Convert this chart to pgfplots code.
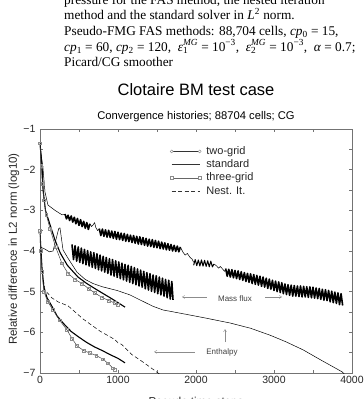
\documentclass[border=0pt]{standalone}
\usepackage{fontspec}
\setmainfont{Liberation Sans}
\newfontfamily\capfont{Liberation Serif}
\usepackage{pgfplots}
\pgfplotsset{compat=1.18}
\usetikzlibrary{arrows.meta}

% epsilon with stacked sub- and superscript
\newcommand\supsub[2]{\makebox[0pt][l]{\textsubscript{#1}}\textsuperscript{#2}}

\begin{document}
\begin{tikzpicture}[x=1pt,y=1pt]
\useasboundingbox (-40,-26) rectangle (324,373);
\clip (-40,-26) rectangle (324,373);

% caption lines above the chart
\begin{scope}[every node/.style={anchor=base west, inner sep=0pt, font=\capfont\fontsize{13.3}{15.6}\selectfont}]
\node at (24,368.6) {pressure for the FAS method, the nested iteration};
\node at (24,353.0) {method and the standard solver in \textit{L}\textsuperscript{2} norm.};
\node at (24,337.4) {Pseudo-FMG FAS methods: 88,704 cells, \textit{cp}\textsubscript{0} = 15,};
\node at (24,321.8) {\textit{cp}\textsubscript{1} = 60, \textit{cp}\textsubscript{2} = 120,\ \ \textit{ε}\supsub{1}{\textit{MG}} = 10\textsuperscript{−3},\ \ \textit{ε}\supsub{2}{\textit{MG}} = 10\textsuperscript{−3},\ \ \textit{α} = 0.7;};
\node at (24,306.2) {Picard/CG smoother};
\end{scope}

% titles and axis labels
\node[anchor=base, inner sep=0pt, font=\fontsize{16.5}{18}\selectfont] at (156,277) {Clotaire BM test case};
\node[anchor=base, inner sep=0pt, font=\fontsize{11.2}{13}\selectfont] at (156,253) {Convergence histories; 88704 cells; CG};
\node[rotate=90, inner sep=0pt, font=\fontsize{11.5}{13}\selectfont, text=black!85] at (-26,124) {Relative difference in L2 norm (log10)};
\node[anchor=base, inner sep=0pt, font=\fontsize{11.5}{13}\selectfont, text=black!85] at (156,-32) {Pseudo time steps};

\begin{axis}[
  scale only axis, width=312pt, height=244pt,
  xmin=0, xmax=4000, ymin=-7, ymax=-1,
  xtick={0,1000,2000,3000,4000}, xticklabels={0,1000,2000,3000,4000},
  minor xtick={500,1500,2500,3500},
  ytick={-7,-6,-5,-4,-3,-2,-1}, yticklabels={−7,−6,−5,−4,−3,−2,−1},
  minor ytick={-6.5,-5.5,-4.5,-3.5,-2.5,-1.5},
  tick align=inside, major tick length=3pt, minor tick length=3pt,
  axis line style={black!55, line width=0.5pt},
  tick style={black!55, line width=0.4pt},
  ticklabel style={font=\fontsize{10.5}{12}\selectfont, text=black!85},
  yticklabel style={xshift=-1pt},
  legend style={draw=none, fill=none, inner sep=0pt,
    at={(rel axis cs:0.416,0.930)}, anchor=north west,
    font=\fontsize{11}{13}\selectfont, text=black!85,
    nodes={inner sep=0pt, text height=8pt, text depth=2.3pt}, row sep=3pt, column sep=5pt},
  legend cell align=left,
  band/.style={black, line width=1.6pt, line join=round, forget plot},
  thin/.style={black, line width=0.5pt, line join=round, forget plot},
]

% ---------------- standard solver: mass flux ----------------
\addplot[thin] coordinates {
(0,-1.40) (20,-1.70) (38,-1.96) (64,-2.55) (102,-2.87) (192,-3.00) (282,-3.11) (320,-3.10)
};
\addplot[band] coordinates {
(320,-3.09) (340,-3.21) (360,-3.12) (380,-3.25) (400,-3.14) (420,-3.29) (440,-3.17)
(460,-3.33) (480,-3.20) (500,-3.37) (520,-3.23) (540,-3.40) (560,-3.27) (580,-3.44)
(600,-3.30) (620,-3.47) (640,-3.33)
};
\addplot[thin] coordinates {
(640,-3.33) (660,-3.40) (680,-3.36) (700,-3.30) (715,-3.42) (740,-3.50) (760,-3.45)
};
\addplot[band] coordinates {
(760,-3.45) (780,-3.62) (800,-3.46) (820,-3.64) (840,-3.48) (860,-3.66) (880,-3.49)
(900,-3.67) (920,-3.51) (940,-3.69) (960,-3.52) (980,-3.71) (1000,-3.54) (1020,-3.72)
(1040,-3.56) (1060,-3.74) (1080,-3.57) (1100,-3.76) (1120,-3.59) (1140,-3.77) (1160,-3.61)
(1180,-3.79) (1200,-3.62) (1220,-3.81) (1240,-3.64) (1260,-3.83) (1280,-3.65) (1300,-3.84)
(1320,-3.67) (1340,-3.86) (1360,-3.69) (1380,-3.88) (1400,-3.71) (1420,-3.89) (1440,-3.72)
(1460,-3.91) (1480,-3.74) (1500,-3.92) (1520,-3.76) (1540,-3.94) (1560,-3.78) (1580,-3.95)
(1600,-3.80) (1620,-3.97) (1640,-3.82) (1660,-3.98) (1680,-3.84) (1700,-4.00) (1720,-3.86)
(1740,-4.01) (1760,-3.88) (1780,-4.02) (1800,-3.90)
};
\addplot[thin] coordinates {
(1800,-3.90) (1830,-4.02) (1860,-4.10) (1890,-4.06) (1920,-4.15) (1950,-4.20) (1970,-4.28)
};
\addplot[black, line width=1.0pt, line join=round, forget plot] coordinates {
(1970,-4.35) (1990,-4.21) (2010,-4.36) (2030,-4.22) (2050,-4.37) (2070,-4.22) (2090,-4.37)
(2110,-4.23) (2130,-4.38) (2150,-4.24) (2170,-4.39) (2190,-4.25) (2210,-4.39) (2230,-4.32)
};
\addplot[thin] coordinates {
(2230,-4.32) (2260,-4.36) (2290,-4.42) (2310,-4.38) (2340,-4.44) (2365,-4.50) (2380,-4.45)
};
\addplot[band] coordinates {
(2380,-4.43) (2400,-4.62) (2420,-4.45) (2440,-4.64) (2460,-4.46) (2480,-4.66) (2500,-4.48)
(2520,-4.68) (2540,-4.49) (2560,-4.70) (2580,-4.51) (2600,-4.72) (2620,-4.53) (2640,-4.75)
(2660,-4.55) (2680,-4.77) (2700,-4.56) (2720,-4.80) (2740,-4.58) (2760,-4.82) (2780,-4.60)
(2800,-4.84) (2820,-4.62) (2840,-4.87) (2860,-4.64) (2880,-4.89) (2900,-4.67) (2920,-4.92)
(2940,-4.69) (2960,-4.94) (2980,-4.72) (3000,-4.97) (3020,-4.74) (3040,-5.00) (3060,-4.76)
(3080,-5.02) (3100,-4.78) (3120,-5.05) (3140,-4.81) (3160,-5.07) (3180,-4.83) (3200,-5.09)
(3220,-4.84) (3240,-5.11) (3260,-4.85) (3280,-5.11) (3300,-4.86) (3320,-5.12) (3340,-4.86)
(3360,-5.13) (3380,-4.87) (3400,-5.13) (3420,-4.88) (3440,-5.14) (3460,-4.88) (3480,-5.15)
(3500,-4.89) (3520,-5.16) (3540,-4.91) (3560,-5.17) (3580,-4.92) (3600,-5.19) (3620,-4.94)
(3640,-5.21) (3660,-4.95) (3680,-5.22) (3700,-4.97) (3720,-5.25) (3740,-4.99) (3760,-5.27)
(3780,-5.01) (3800,-5.29) (3820,-5.03) (3840,-5.32) (3860,-5.05) (3880,-5.34)
};

% ---------------- nested iteration: mass flux ----------------
\addplot[band] coordinates {
(410,-3.84) (430,-4.21) (450,-3.87) (470,-4.25) (490,-3.90) (510,-4.28) (530,-3.93)
(550,-4.31) (570,-3.96) (590,-4.34) (610,-3.99) (630,-4.37) (650,-4.02) (670,-4.40)
(690,-4.04) (710,-4.43) (730,-4.07) (750,-4.46) (770,-4.10) (790,-4.49) (810,-4.13)
(830,-4.52) (850,-4.16) (870,-4.55) (890,-4.19) (910,-4.59) (930,-4.21) (950,-4.62)
(970,-4.24) (990,-4.65) (1010,-4.27) (1030,-4.68) (1050,-4.30) (1070,-4.71) (1090,-4.33)
(1110,-4.74) (1130,-4.35) (1150,-4.77) (1170,-4.38) (1190,-4.80) (1210,-4.41) (1230,-4.83)
(1250,-4.44) (1270,-4.86) (1290,-4.47) (1310,-4.89) (1330,-4.50) (1350,-4.93) (1370,-4.53)
(1390,-4.96) (1410,-4.56) (1430,-4.99) (1450,-4.59) (1470,-5.02) (1490,-4.61) (1510,-5.05)
(1530,-4.64) (1550,-5.08) (1570,-4.67) (1590,-5.11) (1610,-4.70) (1630,-5.15) (1650,-4.72)
(1670,-5.18) (1690,-4.75) (1705,-5.20)
};

% ---------------- standard solver: enthalpy ----------------
\addplot[black, line width=0.5pt, forget plot] coordinates {
(0,-3.90) (60,-3.95) (120,-4.02) (167,-4.00) (200,-3.75) (240,-3.45) (256,-3.43)
(272,-3.65) (295,-3.97) (350,-4.15) (474,-4.52) (580,-4.70) (680,-4.80) (800,-4.88)
(987,-4.97) (1154,-5.08) (1300,-5.22) (1449,-5.36) (1577,-5.45) (1800,-5.53) (2100,-5.64)
(2436,-5.77) (2700,-5.90) (2949,-6.07) (3150,-6.23) (3372,-6.43) (3600,-6.68) (3872,-6.97)
(3900,-7.02)
};

% ---------------- nested iteration: enthalpy ----------------
\addplot[black, line width=0.5pt, dash pattern=on 4pt off 2.5pt, forget plot] coordinates {
(30,-4.55) (64,-4.96) (150,-5.15) (231,-5.25) (360,-5.35) (450,-5.50) (551,-5.67)
(660,-5.82) (769,-5.97) (870,-6.08) (962,-6.18) (1000,-6.26) (1050,-6.30) (1100,-6.40)
(1180,-6.55) (1282,-6.68) (1400,-6.84) (1513,-7.00) (1560,-7.07)
};

% ---------------- two-grid FAS ----------------
\addplot[black, line width=1.1pt, mark=o, mark indices={2}, mark size=1.5pt,
  mark options={solid, draw=black!45, fill=white, line width=0.4pt}, forget plot] coordinates {
(0,-1.35) (26,-1.93) (40,-2.50) (70,-3.00) (128,-3.35) (192,-3.73) (260,-4.05)
(350,-4.35) (487,-4.64) (600,-4.80) (700,-4.92) (795,-5.03) (900,-5.15) (1000,-5.27)
(1090,-5.38)
};
\addplot[black, line width=1.1pt, mark=o, mark indices={1}, mark size=1.5pt,
  mark options={solid, draw=black!45, fill=white, line width=0.4pt}, forget plot] coordinates {
(0,-3.56) (10,-3.90) (25,-4.40) (50,-4.90) (90,-5.15) (150,-5.35) (220,-5.60)
(300,-5.78) (400,-5.98) (500,-6.12) (600,-6.25) (700,-6.36) (800,-6.45) (900,-6.55)
(1000,-6.64) (1090,-6.75)
};

% ---------------- three-grid FAS ----------------
\addplot[black!75, line width=0.5pt, mark=square, mark size=1.4pt,
  mark options={solid, draw=black!45, fill=white, line width=0.4pt}, forget plot] coordinates {
(0,-1.35) (15,-1.90) (30,-2.35) (50,-2.75) (80,-3.10) (128,-3.45) (200,-3.90)
(280,-4.30) (359,-4.55) (450,-4.70) (538,-4.80) (620,-4.92) (700,-5.03) (795,-5.14)
(880,-5.22) (962,-5.28) (1000,-5.33)
};
\addplot[black!75, line width=0.5pt, mark=square, mark size=1.4pt,
  mark options={solid, draw=black!45, fill=white, line width=0.4pt}, forget plot] coordinates {
(0,-3.50) (10,-4.00) (25,-4.50) (50,-5.00) (100,-5.25) (167,-5.45) (250,-5.70)
(346,-5.94) (410,-6.15) (474,-6.33) (560,-6.45) (641,-6.51) (720,-6.57) (808,-6.66)
(870,-6.76) (936,-6.88) (960,-6.92)
};

% annotations
\node[font=\fontsize{8}{9}\selectfont, text=black!75] at (axis cs:2500,-5.17) {Mass flux};
\draw[black!45, line width=0.4pt, -{Straight Barb[length=2.5pt,width=3pt]}] (axis cs:2141,-5.13) -- (axis cs:1820,-5.13);
\draw[black!45, line width=0.4pt, -{Straight Barb[length=2.5pt,width=3pt]}] (axis cs:2885,-5.13) -- (axis cs:3103,-5.13);
\node[font=\fontsize{8}{9}\selectfont, text=black!75] at (axis cs:2333,-6.50) {Enthalpy};
\draw[black!45, line width=0.4pt, -{Straight Barb[length=2.5pt,width=3pt]}] (axis cs:1987,-6.48) -- (axis cs:1462,-6.48);
\draw[black!45, line width=0.4pt, -{Straight Barb[length=2.5pt,width=3pt]}] (axis cs:2372,-6.24) -- (axis cs:2372,-5.92);

% legend
\addlegendimage{legend image code/.code={
  \draw[black!80, line width=1.1pt] (0pt,0pt) -- (28pt,0pt);
  \draw[black!45, fill=white, line width=0.4pt] (0pt,0pt) circle (1.5pt) (28pt,0pt) circle (1.5pt);}}
\addlegendentry{two-grid}
\addlegendimage{legend image code/.code={
  \draw[black!80, line width=0.5pt] (0pt,0pt) -- (28pt,0pt);}}
\addlegendentry{standard}
\addlegendimage{legend image code/.code={
  \draw[black!60, line width=0.5pt] (0pt,0pt) -- (28pt,0pt);
  \draw[black!45, fill=white, line width=0.4pt] (-1.4pt,-1.4pt) rectangle (1.4pt,1.4pt) (26.6pt,-1.4pt) rectangle (29.4pt,1.4pt);}}
\addlegendentry{three-grid}
\addlegendimage{legend image code/.code={
  \draw[black!80, line width=0.5pt, dash pattern=on 4pt off 2.5pt] (0pt,0pt) -- (28pt,0pt);}}
\addlegendentry{Nest. It.}
\end{axis}
\end{tikzpicture}
\end{document}
